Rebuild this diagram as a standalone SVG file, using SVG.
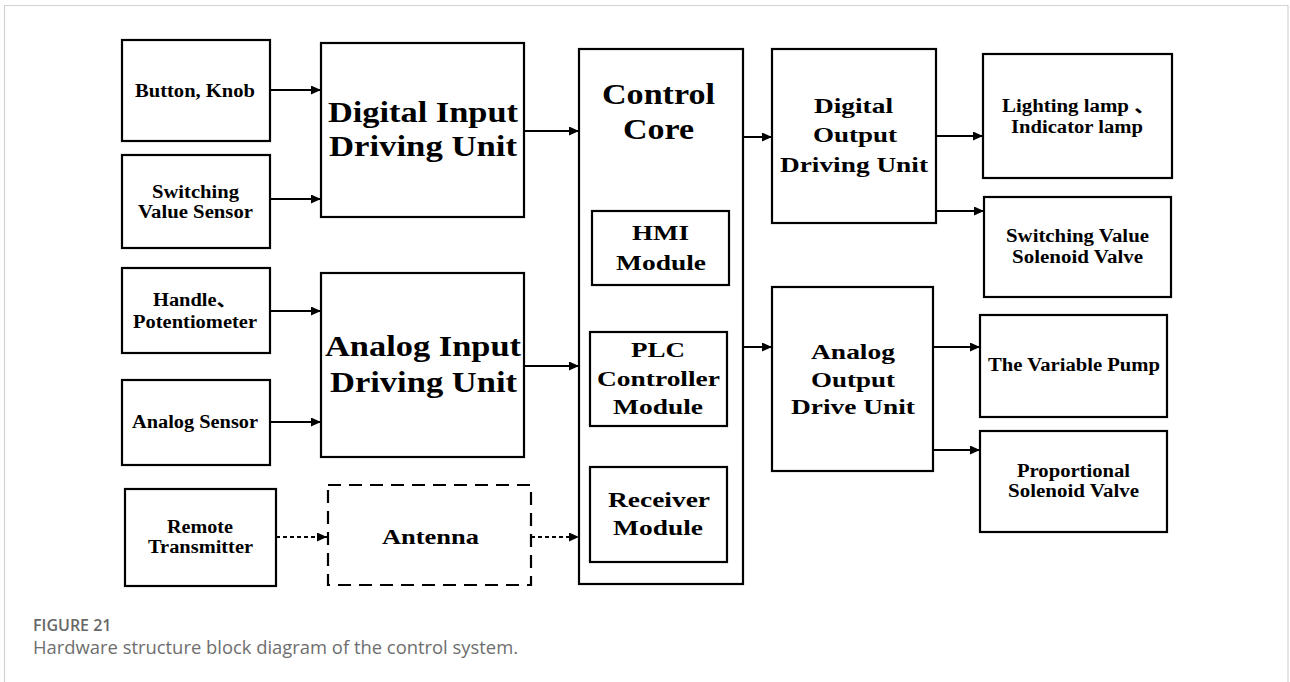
<svg xmlns="http://www.w3.org/2000/svg" width="1290" height="682" viewBox="0 0 1290 682">
  <style>
    .box { fill: #fff; stroke: #000; stroke-width: 2.2; }
    .dbox { fill: #fff; stroke: #000; stroke-width: 2.2; stroke-dasharray: 13 8; }
    .lbl { font-family: "Liberation Serif", "Times New Roman", "Noto Sans CJK SC", serif; font-weight: bold; fill: #000; }
    .s18 { font-size: 18px; }
    .s21 { font-size: 21px; }
    .s22 { font-size: 22px; }
    .s30 { font-size: 30px; }
    .wire { stroke: #000; stroke-width: 2; fill: none; }
    .dot { stroke: #000; stroke-width: 2; fill: none; stroke-dasharray: 4 3; }
    .frame { stroke: #d2d2d2; stroke-width: 1.2; fill: none; }
    .cap-h { font-family: "Open Sans", "Noto Sans", sans-serif; font-weight: 600; font-size: 16px; fill: #676767; }
    .cap-t { font-family: "Open Sans", "Noto Sans", sans-serif; font-size: 18.4px; fill: #6e6e6e; }
  </style>
  <defs>
    <marker id="arrow" markerUnits="userSpaceOnUse" markerWidth="11" markerHeight="9" refX="10" refY="4.5" orient="auto">
      <path d="M0,0 L10,4.5 L0,9 Z" fill="#000"/>
    </marker>
  </defs>

  <rect width="1290" height="682" fill="#fff"/>
  <path class="frame" d="M4.5,682 V5.5 H1288 V682"/>

  <!-- input devices -->
  <g id="button-knob">
    <rect class="box" x="122" y="40" width="148" height="101"/>
    <text class="lbl s18" x="135" y="97" textLength="120" lengthAdjust="spacingAndGlyphs">Button, Knob</text>
  </g>
  <g id="switching-sensor">
    <rect class="box" x="122" y="155" width="148" height="93"/>
    <text class="lbl s18" x="152" y="198" textLength="87" lengthAdjust="spacingAndGlyphs">Switching</text>
    <text class="lbl s18" x="138" y="218" textLength="115" lengthAdjust="spacingAndGlyphs">Value Sensor</text>
  </g>
  <g id="handle-potentiometer">
    <rect class="box" x="122" y="268" width="148" height="85"/>
    <text class="lbl s18" x="153" y="306" textLength="84" lengthAdjust="spacingAndGlyphs">Handle、</text>
    <text class="lbl s18" x="133" y="328" textLength="124" lengthAdjust="spacingAndGlyphs">Potentiometer</text>
  </g>
  <g id="analog-sensor">
    <rect class="box" x="122" y="380" width="148" height="85"/>
    <text class="lbl s18" x="132" y="428" textLength="126" lengthAdjust="spacingAndGlyphs">Analog Sensor</text>
  </g>
  <g id="remote-transmitter">
    <rect class="box" x="125" y="489" width="151" height="97"/>
    <text class="lbl s18" x="167" y="533" textLength="66" lengthAdjust="spacingAndGlyphs">Remote</text>
    <text class="lbl s18" x="148" y="553" textLength="105" lengthAdjust="spacingAndGlyphs">Transmitter</text>
  </g>

  <!-- input driving units -->
  <g id="digital-input-unit">
    <rect class="box" x="321" y="43" width="203" height="174"/>
    <text class="lbl s30" x="328" y="122" textLength="190" lengthAdjust="spacingAndGlyphs">Digital Input</text>
    <text class="lbl s30" x="329" y="156" textLength="188" lengthAdjust="spacingAndGlyphs">Driving Unit</text>
  </g>
  <g id="analog-input-unit">
    <rect class="box" x="321" y="273" width="203" height="184"/>
    <text class="lbl s30" x="325" y="356" textLength="196" lengthAdjust="spacingAndGlyphs">Analog Input</text>
    <text class="lbl s30" x="330" y="392" textLength="187" lengthAdjust="spacingAndGlyphs">Driving Unit</text>
  </g>
  <g id="antenna">
    <rect class="dbox" x="328" y="485" width="203" height="100"/>
    <text class="lbl s22" x="382" y="544" textLength="97" lengthAdjust="spacingAndGlyphs">Antenna</text>
  </g>

  <!-- control core with its modules -->
  <g id="control-core">
    <rect class="box" x="579" y="49" width="164" height="535"/>
    <text class="lbl s30" x="602" y="104" textLength="113" lengthAdjust="spacingAndGlyphs">Control</text>
    <text class="lbl s30" x="623" y="139" textLength="71" lengthAdjust="spacingAndGlyphs">Core</text>
  </g>
  <g id="hmi-module">
    <rect class="box" x="592" y="211" width="137" height="74"/>
    <text class="lbl s22" x="632" y="240" textLength="57" lengthAdjust="spacingAndGlyphs">HMI</text>
    <text class="lbl s22" x="616" y="270" textLength="90" lengthAdjust="spacingAndGlyphs">Module</text>
  </g>
  <g id="plc-module">
    <rect class="box" x="590" y="332" width="137" height="94"/>
    <text class="lbl s22" x="631" y="357" textLength="54" lengthAdjust="spacingAndGlyphs">PLC</text>
    <text class="lbl s22" x="597" y="386" textLength="123" lengthAdjust="spacingAndGlyphs">Controller</text>
    <text class="lbl s22" x="613" y="414" textLength="90" lengthAdjust="spacingAndGlyphs">Module</text>
  </g>
  <g id="receiver-module">
    <rect class="box" x="590" y="467" width="137" height="95"/>
    <text class="lbl s22" x="608" y="507" textLength="102" lengthAdjust="spacingAndGlyphs">Receiver</text>
    <text class="lbl s22" x="613" y="535" textLength="90" lengthAdjust="spacingAndGlyphs">Module</text>
  </g>

  <!-- output driving units -->
  <g id="digital-output-unit">
    <rect class="box" x="772" y="49" width="164" height="174"/>
    <text class="lbl s21" x="814" y="113" textLength="79" lengthAdjust="spacingAndGlyphs">Digital</text>
    <text class="lbl s21" x="813" y="142" textLength="84" lengthAdjust="spacingAndGlyphs">Output</text>
    <text class="lbl s21" x="780" y="172" textLength="148" lengthAdjust="spacingAndGlyphs">Driving Unit</text>
  </g>
  <g id="analog-output-unit">
    <rect class="box" x="772" y="287" width="161" height="184"/>
    <text class="lbl s21" x="811" y="359" textLength="84" lengthAdjust="spacingAndGlyphs">Analog</text>
    <text class="lbl s21" x="811" y="387" textLength="84" lengthAdjust="spacingAndGlyphs">Output</text>
    <text class="lbl s21" x="791" y="414" textLength="124" lengthAdjust="spacingAndGlyphs">Drive Unit</text>
  </g>

  <!-- actuators -->
  <g id="lamps">
    <rect class="box" x="983" y="54" width="189" height="124"/>
    <text class="lbl s18" x="1002" y="112" textLength="153" lengthAdjust="spacingAndGlyphs">Lighting lamp 、</text>
    <text class="lbl s18" x="1011" y="133" textLength="132" lengthAdjust="spacingAndGlyphs">Indicator lamp</text>
  </g>
  <g id="switching-valve">
    <rect class="box" x="984" y="197" width="187" height="100"/>
    <text class="lbl s18" x="1006" y="242" textLength="143" lengthAdjust="spacingAndGlyphs">Switching Value</text>
    <text class="lbl s18" x="1012" y="263" textLength="131" lengthAdjust="spacingAndGlyphs">Solenoid Valve</text>
  </g>
  <g id="variable-pump">
    <rect class="box" x="980" y="315" width="187" height="102"/>
    <text class="lbl s18" x="988" y="371" textLength="172" lengthAdjust="spacingAndGlyphs">The Variable Pump</text>
  </g>
  <g id="proportional-valve">
    <rect class="box" x="980" y="431" width="187" height="101"/>
    <text class="lbl s18" x="1017" y="477" textLength="113" lengthAdjust="spacingAndGlyphs">Proportional</text>
    <text class="lbl s18" x="1008" y="497" textLength="131" lengthAdjust="spacingAndGlyphs">Solenoid Valve</text>
  </g>

  <!-- signal flow -->
  <g id="connectors">
    <line class="wire" x1="270" y1="90" x2="321" y2="90" marker-end="url(#arrow)"/>
    <line class="wire" x1="270" y1="199" x2="321" y2="199" marker-end="url(#arrow)"/>
    <line class="wire" x1="270" y1="311" x2="321" y2="311" marker-end="url(#arrow)"/>
    <line class="wire" x1="270" y1="422" x2="321" y2="422" marker-end="url(#arrow)"/>
    <line class="dot" x1="276" y1="537" x2="327" y2="537" marker-end="url(#arrow)"/>
    <line class="wire" x1="524" y1="131" x2="579" y2="131" marker-end="url(#arrow)"/>
    <line class="wire" x1="524" y1="366" x2="579" y2="366" marker-end="url(#arrow)"/>
    <line class="dot" x1="531" y1="537" x2="579" y2="537" marker-end="url(#arrow)"/>
    <line class="wire" x1="743" y1="137" x2="772" y2="137" marker-end="url(#arrow)"/>
    <line class="wire" x1="743" y1="347" x2="772" y2="347" marker-end="url(#arrow)"/>
    <line class="wire" x1="936" y1="136" x2="983" y2="136" marker-end="url(#arrow)"/>
    <line class="wire" x1="936" y1="211" x2="984" y2="211" marker-end="url(#arrow)"/>
    <line class="wire" x1="933" y1="347" x2="980" y2="347" marker-end="url(#arrow)"/>
    <line class="wire" x1="933" y1="450" x2="980" y2="450" marker-end="url(#arrow)"/>
  </g>

  <!-- caption -->
  <text class="cap-h" x="33" y="631">FIGURE 21</text>
  <text class="cap-t" x="33" y="654">Hardware structure block diagram of the control system.</text>
</svg>
